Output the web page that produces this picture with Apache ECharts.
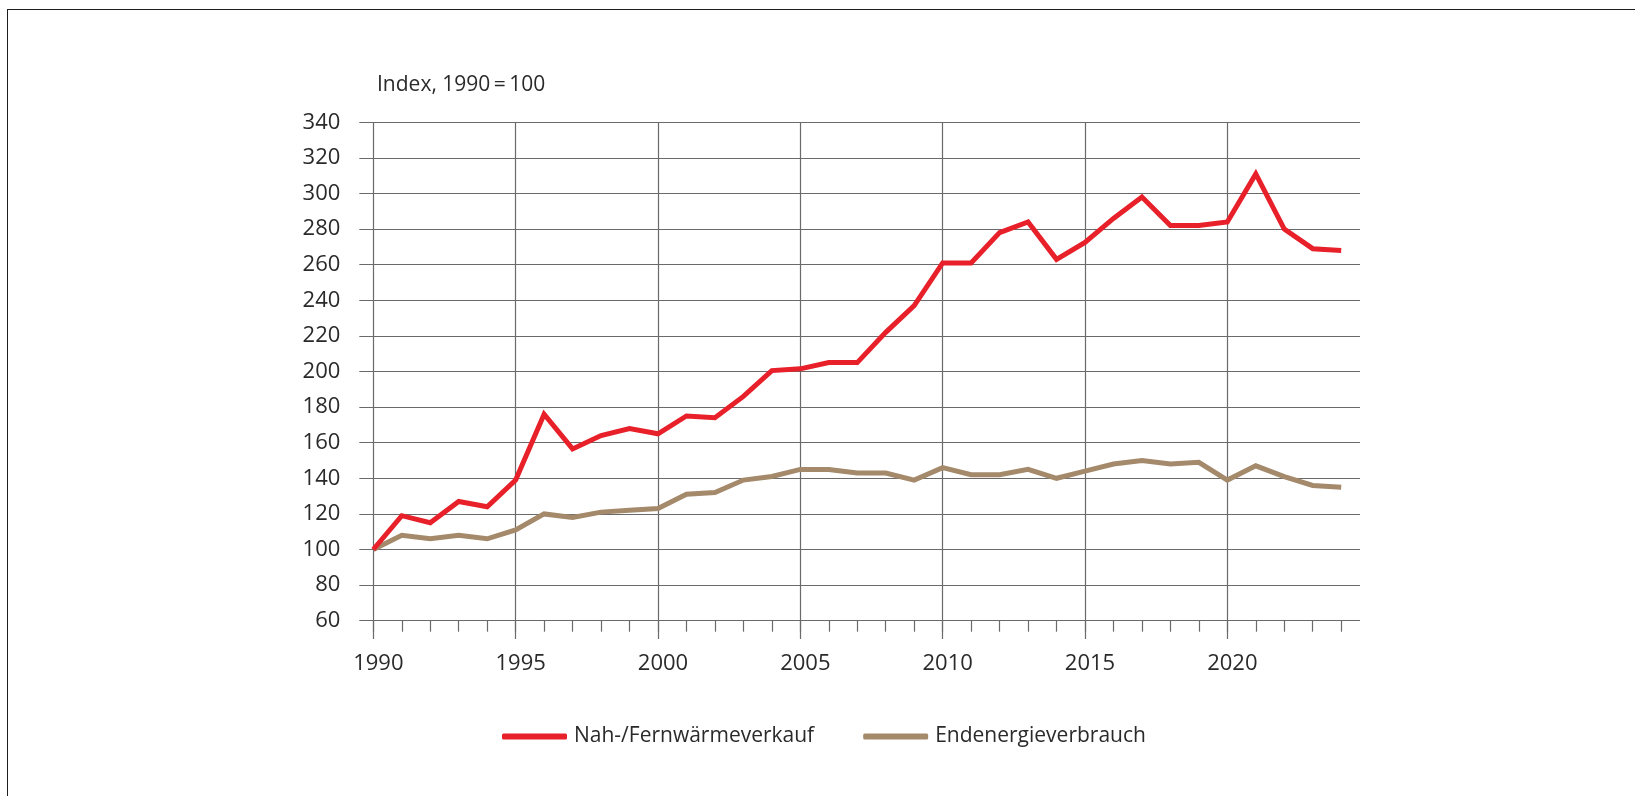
<!DOCTYPE html>
<html>
<head>
<meta charset="utf-8">
<script src="https://cdn.jsdelivr.net/npm/echarts@6/dist/echarts.min.js"></script>
<style>
  html, body { margin: 0; padding: 0; background: #fff; overflow: hidden; }
  #wrap { position: relative; width: 1635px; height: 796px; }
  #chart { position: absolute; left: 0; top: 0; width: 1635px; height: 796px; }
  #frame { position: absolute; left: 7px; top: 9px; width: 1640px; height: 800px;
           border-top: 1.6px solid #1e1e1e; border-left: 1.6px solid #1e1e1e; pointer-events: none; }
</style>
</head>
<body>
<div id="wrap">
  <div id="chart"></div>
  <div id="frame"></div>
</div>
<script>
// ---- data ----
const years = [1990,1991,1992,1993,1994,1995,1996,1997,1998,1999,2000,2001,2002,2003,2004,2005,2006,2007,2008,2009,2010,2011,2012,2013,2014,2015,2016,2017,2018,2019,2020,2021,2022,2023,2024];
const heatSales = [100,119,115,127,124,139,176,156.5,164,168,165,175,174,186,200.5,201.5,205,205,222,237,261,261,278,284,263,272.5,286,298,282,282,284,311,280,269,268];
const finalEnergy = [100,108,106,108,106,111,120,118,121,122,123,131,132,139,141,145,145,143,143,139,146,142,142,145,140,144,148,150,148,149,139,147,141,136,135];
const seriesNames = ['Nah-/Fernwärmeverkauf', 'Endenergieverbrauch'];
const yAxisTitle = 'Index, 1990\u2009=\u2009100';
const yMin = 60, yMax = 340, yStep = 20;
const xMin = 1990, xMax = 2024, xMajor = 5;

const font = '"Open Sans", "Noto Sans", sans-serif';
const gridColor = '#6a6a6a';
const textColor = '#2a2a2a';

const chart = echarts.init(document.getElementById('chart'), null, { renderer: 'canvas' });
chart.setOption({
  animation: false,
  backgroundColor: '#ffffff',
  title: {
    text: yAxisTitle,
    left: 372, top: 70,
    textStyle: { fontFamily: font, fontSize: 21, fontWeight: 'normal', color: textColor }
  },
  legend: {
    left: 497, top: 721,
    itemWidth: 65, itemHeight: 6, itemGap: 49,
    icon: 'roundRect',
    textStyle: { fontFamily: font, fontSize: 21, color: textColor, padding: [0, 0, 0, 2] },
    data: seriesNames
  },
  grid: [
    { left: 373.3, right: 293.8, top: 122.3, bottom: 175.3 },  // data grid
    { left: 359.3, right: 275, top: 122.3, bottom: 175.3 },    // horizontal gridlines
    { left: 373.3, right: 293.8, top: 122.3, bottom: 157 }     // vertical gridlines
  ],
  xAxis: [
    {
      gridIndex: 0, type: 'value', min: xMin, max: xMax, interval: 1,
      axisLine: { show: false },
      axisTick: { show: true, length: 11, lineStyle: { color: gridColor, width: 1.2 } },
      splitLine: { show: false },
      axisLabel: {
        margin: 32, padding: [0, 0, 0, 10],
        fontFamily: font, fontSize: 22, color: textColor,
        formatter: v => (v % xMajor === 0 ? String(v) : '')
      }
    },
    { gridIndex: 1, type: 'value', min: 0, max: 1, show: false },
    {
      gridIndex: 2, type: 'value', min: xMin, max: xMax, interval: xMajor,
      axisLine: { show: false }, axisTick: { show: false }, axisLabel: { show: false },
      splitLine: { show: true, showMinLine: true, showMaxLine: false, lineStyle: { color: gridColor, width: 1.2 } }
    }
  ],
  yAxis: [
    { gridIndex: 0, type: 'value', min: yMin, max: yMax, interval: yStep, show: false },
    {
      gridIndex: 1, type: 'value', min: yMin, max: yMax, interval: yStep,
      axisLine: { show: false }, axisTick: { show: false },
      axisLabel: { margin: 19, fontFamily: font, fontSize: 22, color: textColor },
      splitLine: { show: true, lineStyle: { color: gridColor, width: 1.2 } }
    },
    { gridIndex: 2, type: 'value', min: 0, max: 1, show: false }
  ],
  series: [
    {
      name: seriesNames[0], type: 'line', xAxisIndex: 0, yAxisIndex: 0,
      data: years.map((y, i) => [y, heatSales[i]]),
      symbol: 'none', z: 4,
      itemStyle: { color: '#e8202a' },
      lineStyle: { color: '#e8202a', width: 5, join: 'miter' }
    },
    {
      name: seriesNames[1], type: 'line', xAxisIndex: 0, yAxisIndex: 0,
      data: years.map((y, i) => [y, finalEnergy[i]]),
      symbol: 'none', z: 3,
      itemStyle: { color: '#a4896b' },
      lineStyle: { color: '#a4896b', width: 5, join: 'miter' }
    }
  ]
});
</script>
</body>
</html>
